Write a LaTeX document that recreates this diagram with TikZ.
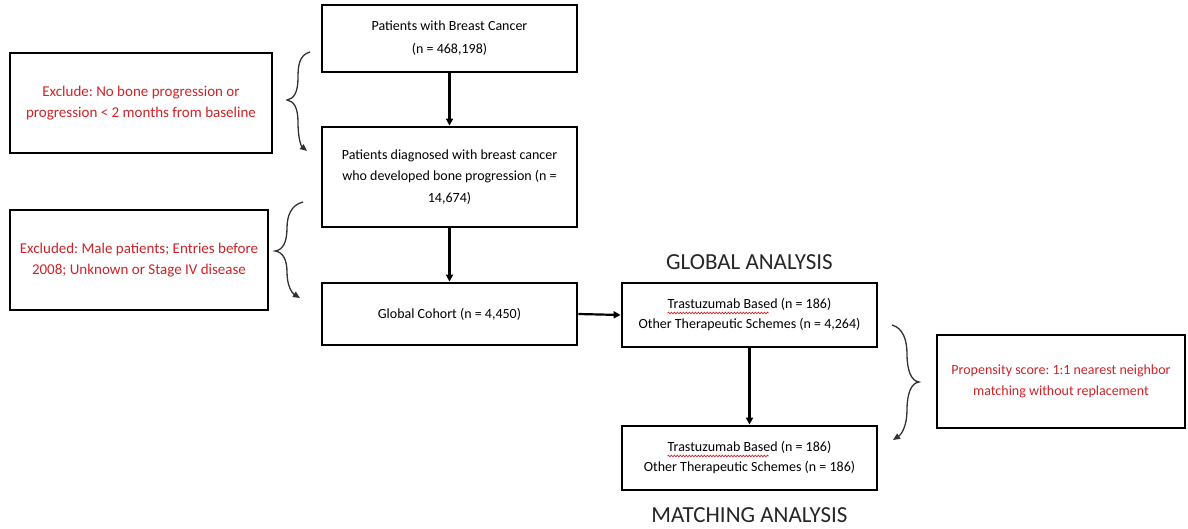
\documentclass[tikz,border=0pt]{standalone}
\usepackage{fontspec}
\setmainfont{Carlito}
\frenchspacing
\usetikzlibrary{arrows.meta,decorations.pathmorphing,calc}
\definecolor{exred}{RGB}{205,35,40}
\definecolor{bracegray}{RGB}{50,50,50}
\tikzset{
  boxnode/.style={draw=black,line width=2.8pt,rectangle,inner sep=0pt,align=center,
    font=\fontsize{14}{21.5}\selectfont},
  exnode/.style={boxnode,text=exred,font=\fontsize{15}{21.5}\selectfont},
  headnode/.style={inner sep=0pt,font=\fontsize{23}{26}\selectfont,text=black!85},
  flowarrow/.style={line width=2.2pt,-{Triangle[length=7pt,width=7pt]}},
  bracepath/.style={draw=bracegray,line width=1.3pt,-{Triangle[length=7pt,width=6pt]}},
  spell/.style={draw=exred,line width=0.7pt,decorate,decoration={snake,segment length=3pt,amplitude=0.8pt}}
}
\begin{document}
\begin{tikzpicture}[x=1pt,y=-1pt]
\useasboundingbox (0,0) rectangle (1188,529);
% main column
\node[boxnode,minimum width=255pt,minimum height=67pt,font=\fontsize{14}{23}\selectfont] (top) at (449.5,38.5)
  {Patients with Breast Cancer\\(n = 468,198)};
\node[boxnode,minimum width=255pt,minimum height=100pt] (b2) at (449.5,177)
  {Patients diagnosed with breast cancer\\who developed bone progression (n =\\14,674)};
\node[boxnode,minimum width=255pt,minimum height=62pt] (b3) at (449.5,314)
  {Global Cohort (n = 4,450)};
% exclusion boxes
\node[exnode,minimum width=262pt,minimum height=100pt] (ex1) at (141,103)
  {Exclude: No bone progression or\\progression {\textless} 2 months from baseline};
\node[exnode,minimum width=258pt,minimum height=100pt] (ex2) at (139,260)
  {Excluded: Male patients; Entries before\\2008; Unknown or Stage IV disease};
% analysis boxes
\node[boxnode,minimum width=255pt,minimum height=64pt,font=\fontsize{14}{20}\selectfont] (t1) at (749.5,315)
  {Trastuzumab Based (n = 186)\\Other Therapeutic Schemes (n = 4,264)};
\node[boxnode,minimum width=255pt,minimum height=64pt,font=\fontsize{14}{20}\selectfont] (t2) at (749.5,458)
  {Trastuzumab Based (n = 186)\\Other Therapeutic Schemes (n = 186)};
\node[exnode,minimum width=248pt,minimum height=93pt,font=\fontsize{14}{21.5}\selectfont] (prop) at (1061,381.5)
  {Propensity score: 1:1 nearest neighbor\\matching without replacement};
% headings
\node[headnode] (global) at (749.5,262) {GLOBAL ANALYSIS};
\node[headnode] (matching) at (749.5,515) {MATCHING ANALYSIS};
% flow arrows
\draw[flowarrow] (top.south) -- (b2.north);
\draw[flowarrow] (b2.south) -- (b3.north);
\draw[flowarrow] (b3.east) -- (t1.west);
\draw[flowarrow] (t1.south) -- (t2.north);
% spell-check underlines
\draw[spell] ($(t1.center)+(-82,-2)$) -- ($(t1.center)+(19,-2)$);
\draw[spell] ($(t2.center)+(-82,-2)$) -- ($(t2.center)+(19,-2)$);
% braces
\coordinate (br1s) at (310,52);
\coordinate (br1c) at (287,100);
\coordinate (br1e) at (307,151);
\draw[bracepath] (br1s) .. controls (299,55) and (298,66) .. (298,78)
  .. controls (298,92) and (294,99) .. (br1c)
  .. controls (294,101) and (298,108) .. (298,122)
  .. controls (298,138) and (301,146) .. (br1e);
\coordinate (br2s) at (303,202);
\coordinate (br2c) at (275,251);
\coordinate (br2e) at (300,298);
\draw[bracepath] (br2s) .. controls (291,205) and (287,216) .. (287,228)
  .. controls (287,242) and (283,250) .. (br2c)
  .. controls (283,252) and (287,260) .. (287,272)
  .. controls (287,286) and (292,293) .. (br2e);
\coordinate (br3s) at (892,325);
\coordinate (br3c) at (919,382);
\coordinate (br3e) at (893,440);
\draw[bracepath] (br3s) .. controls (903,328) and (907,340) .. (907,354)
  .. controls (907,370) and (911,381) .. (br3c)
  .. controls (911,383) and (907,394) .. (907,410)
  .. controls (907,425) and (902,434) .. (br3e);
\end{tikzpicture}
\end{document}
